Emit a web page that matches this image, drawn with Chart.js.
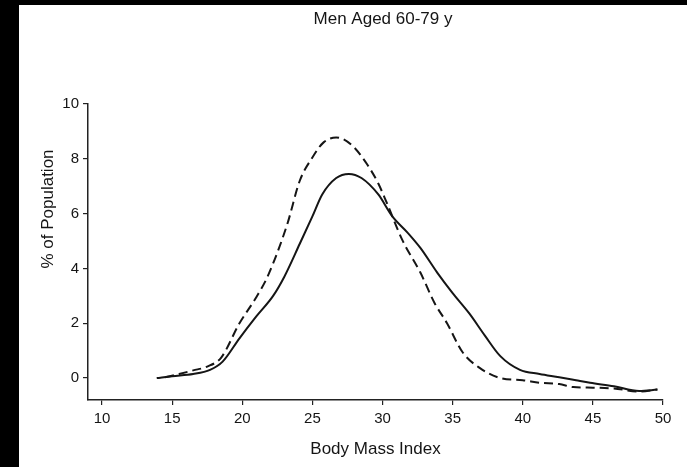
<!DOCTYPE html>
<html><head><meta charset="utf-8">
<script src="https://cdn.jsdelivr.net/npm/chart.js@4"></script>
<style>
html,body{margin:0;padding:0;background:#000;width:687px;height:467px;overflow:hidden}
#wrap{position:absolute;left:19px;top:5px;width:668px;height:462px;background:#fff}
canvas{display:block}
</style></head><body>
<div id="wrap"><canvas id="c" width="668" height="462"></canvas></div>
<script>
const titleText = "Men Aged 60-79 y";
const xAxisTitle = "Body Mass Index";
const yAxisTitle = "% of Population";
const xTicks = [10, 15, 20, 25, 30, 35, 40, 45, 50];
const yTicks = [0, 2, 4, 6, 8, 10];

// Solid curve
const bmiSolid = [13.9, 15, 16.5, 17.7, 18.6, 19.8, 21.0, 22.2, 23.0, 24.1, 25.0, 25.7, 26.7, 27.6, 28.5, 29.7, 30.7, 31.8, 32.7, 33.9, 35.0, 36.2, 37.3, 38.4, 39.8, 41.2, 42.6, 43.8, 44.8, 46.5, 48.3, 49.6];
const pctSolid = [0, 0.07, 0.15, 0.3, 0.6, 1.45, 2.25, 3.0, 3.7, 4.9, 5.9, 6.7, 7.3, 7.45, 7.3, 6.7, 5.9, 5.3, 4.75, 3.85, 3.1, 2.35, 1.55, 0.8, 0.3, 0.15, 0.03, -0.08, -0.17, -0.3, -0.47, -0.42];

// Dashed curve
const bmiDashed = [14.5, 15.5, 16.5, 17.5, 18.5, 19.8, 21.0, 21.8, 23.2, 24.1, 25.0, 25.8, 26.7, 27.8, 28.9, 29.7, 30.3, 31.4, 32.7, 33.7, 34.6, 35.7, 36.9, 38.4, 40.0, 41.2, 42.6, 43.6, 45.0, 46.5, 48.3, 49.6];
const pctDashed = [0.03, 0.15, 0.28, 0.42, 0.75, 2.0, 2.95, 3.7, 5.6, 7.2, 8.05, 8.6, 8.78, 8.5, 7.8, 7.1, 6.4, 5.05, 3.85, 2.75, 2.0, 0.95, 0.38, 0.0, -0.08, -0.17, -0.22, -0.33, -0.35, -0.38, -0.49, -0.42];

const FONT = '"Liberation Sans", Arial, Helvetica, sans-serif';
const INK = '#151515';

const textPlugin = {
  id: 'texts',
  afterDraw(chart) {
    const {ctx, chartArea: a} = chart;
    ctx.save();
    ctx.fillStyle = INK;
    ctx.font = '17px ' + FONT;
    ctx.textAlign = 'center';
    ctx.textBaseline = 'middle';
    ctx.fillText(titleText, a.left + 295, a.top - 85);
    ctx.translate(a.left - 40, a.top + 105);
    ctx.rotate(-Math.PI / 2);
    ctx.fillText(yAxisTitle, 0, 0);
    ctx.restore();
  }
};

new Chart(document.getElementById('c'), {
  type: 'line',
  data: {
    datasets: [
      {
        data: bmiSolid.map((x, i) => ({x: x, y: pctSolid[i]})),
        borderColor: INK, borderWidth: 2, pointRadius: 0,
        cubicInterpolationMode: 'monotone', fill: false
      },
      {
        data: bmiDashed.map((x, i) => ({x: x, y: pctDashed[i]})),
        borderColor: INK, borderWidth: 2, pointRadius: 0, borderDash: [9, 5],
        cubicInterpolationMode: 'monotone', fill: false
      }
    ]
  },
  options: {
    responsive: false,
    animation: false,
    layout: {padding: {left: 0, right: 24, top: 99, bottom: 0}},
    plugins: {legend: {display: false}, tooltip: {enabled: false}, title: {display: false}},
    scales: {
      x: {
        type: 'linear', min: 9, max: 50,
        afterBuildTicks: s => { s.ticks = xTicks.map(v => ({value: v})); },
        afterFit: s => { s.height = 67; s.paddingLeft = 0; s.paddingRight = 0; },
        grid: {drawOnChartArea: false, drawTicks: true, tickLength: 5, color: '#222', lineWidth: 1.2},
        border: {display: true, color: '#222', width: 1.5},
        ticks: {color: INK, font: {family: FONT, size: 15}, padding: 5, maxRotation: 0, autoSkip: false},
        title: {display: true, text: xAxisTitle, color: INK, font: {family: FONT, size: 17}, padding: {top: 0, bottom: 7}}
      },
      y: {
        type: 'linear', min: -0.8, max: 10,
        afterBuildTicks: s => { s.ticks = yTicks.map(v => ({value: v})); },
        afterFit: s => { s.width = 69; s.paddingTop = 0; s.paddingBottom = 0; },
        grid: {drawOnChartArea: false, drawTicks: true, tickLength: 5, color: '#222', lineWidth: 1.2},
        border: {display: true, color: '#222', width: 1.5},
        ticks: {color: INK, font: {family: FONT, size: 15}, padding: 4, autoSkip: false}
      }
    }
  },
  plugins: [textPlugin]
});
</script>
</body></html>
